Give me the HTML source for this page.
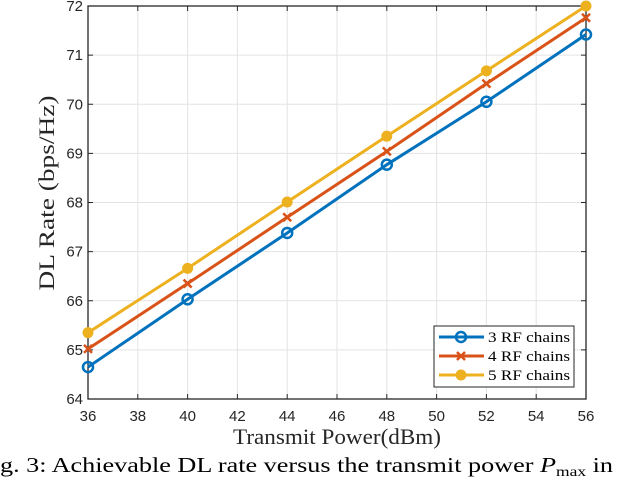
<!DOCTYPE html>
<html><head><meta charset="utf-8"><style>
html,body{margin:0;padding:0;background:#fff;}
svg{display:block;}
</style></head><body>
<svg id="chart" width="618" height="478" xmlns="http://www.w3.org/2000/svg">
<g id="grid"></g>
<rect x="88" y="6" width="498" height="393" fill="none" stroke="#262626" stroke-width="1.3"/>
<g id="ticks"></g>
<g id="series"></g>
<text transform="translate(54,193) rotate(-90)" text-anchor="middle" font-family="Liberation Serif, serif" font-size="22" fill="#262626" textLength="195" lengthAdjust="spacingAndGlyphs">DL Rate (bps/Hz)</text>
<text x="337" y="444" text-anchor="middle" font-family="Liberation Serif, serif" font-size="22" fill="#262626" textLength="208" lengthAdjust="spacingAndGlyphs">Transmit Power(dBm)</text>
<text x="0" y="472" font-family="Liberation Serif, serif" font-size="21" fill="#000" textLength="613" lengthAdjust="spacingAndGlyphs">g. 3: Achievable DL rate versus the transmit power <tspan font-style="italic">P</tspan><tspan font-size="14" dy="4">max</tspan><tspan dy="-4"> in</tspan></text>
<g id="legend">
<rect x="434" y="326" width="140" height="61" fill="#fff" stroke="#262626" stroke-width="1"/>
</g>
</svg>
<script>
const xTicks=[36,38,40,42,44,46,48,50,52,54,56];
const yTicks=[64,65,66,67,68,69,70,71,72];
const xValues=[36,40,44,48,52,56];
const rf3=[64.65,66.03,67.38,68.77,70.05,71.42];
const rf4=[65.02,66.35,67.70,69.04,70.42,71.76];
const rf5=[65.35,66.66,68.01,69.35,70.68,72.0];
const seriesNames=["3 RF chains","4 RF chains","5 RF chains"];
const NS="http://www.w3.org/2000/svg";
const X0=88,X1=586,Y0=399,Y1=6;
const xs=v=>X0+(v-36)/(56-36)*(X1-X0);
const ys=v=>Y0-(v-64)/(72-64)*(Y0-Y1);
function mk(tag,attrs,parent){const e=document.createElementNS(NS,tag);for(const k in attrs)e.setAttribute(k,attrs[k]);parent.appendChild(e);return e;}
const grid=document.getElementById('grid'),ticks=document.getElementById('ticks');
xTicks.forEach(t=>{const x=xs(t);
 const g=mk('line',{x1:x,x2:x,y1:Y1,y2:Y0,stroke:'#e3e3e3','stroke-width':1},grid);
 
 mk('line',{x1:x,x2:x,y1:Y0,y2:Y0-5,stroke:'#262626'},ticks);
 mk('line',{x1:x,x2:x,y1:Y1,y2:Y1+5,stroke:'#262626'},ticks);
 const l=mk('text',{x:x,y:421,'text-anchor':'middle','font-family':'Liberation Sans, sans-serif','font-size':15,fill:'#262626'},ticks);
 l.textContent=t;});
yTicks.forEach(t=>{const y=ys(t);
 const g=mk('line',{x1:X0,x2:X1,y1:y,y2:y,stroke:'#e3e3e3','stroke-width':1},grid);
 
 mk('line',{x1:X0,x2:X0+5,y1:y,y2:y,stroke:'#262626'},ticks);
 mk('line',{x1:X1,x2:X1-5,y1:y,y2:y,stroke:'#262626'},ticks);
 const l=mk('text',{x:83,y:y+5,'text-anchor':'end','font-family':'Liberation Sans, sans-serif','font-size':15,fill:'#262626'},ticks);
 l.textContent=t;});
const colors=['#0072BD','#D95319','#EDB120'];
function marker(type,x,y,c,p){
 if(type===0){const m=mk('circle',{cx:x,cy:y,r:5,fill:'none',stroke:c,'stroke-width':2.5},p);return m;}
 if(type===1){const g=mk('g',{},p);mk('line',{x1:x-4,y1:y-4,x2:x+4,y2:y+4,stroke:c,'stroke-width':2.5},g);mk('line',{x1:x-4,y1:y+4,x2:x+4,y2:y-4,stroke:c,'stroke-width':2.5},g);return g;}
 return mk('circle',{cx:x,cy:y,r:5,fill:c,stroke:c,'stroke-width':1},p);}
const ser=document.getElementById('series');
[rf3,rf4,rf5].forEach((d,i)=>{const g=mk('g',{},ser);
 
 mk('polyline',{points:d.map((v,j)=>xs(xValues[j])+','+ys(v)).join(' '),fill:'none',stroke:colors[i],'stroke-width':3},g);
 d.forEach((v,j)=>{const m=marker(i,xs(xValues[j]),ys(v),colors[i],g);
  });});
const leg=document.getElementById('legend');
seriesNames.forEach((n,i)=>{const y=337+i*19;const g=mk('g',{},leg);
 
 mk('line',{x1:439,x2:484,y1:y,y2:y,stroke:colors[i],'stroke-width':3},g);
 marker(i,461,y,colors[i],g);
 const t=mk('text',{x:488,y:y+5,'font-family':'Liberation Serif, serif','font-size':15,fill:'#000',textLength:82,lengthAdjust:'spacingAndGlyphs'},g);t.textContent=n;});
</script>
</body></html>
